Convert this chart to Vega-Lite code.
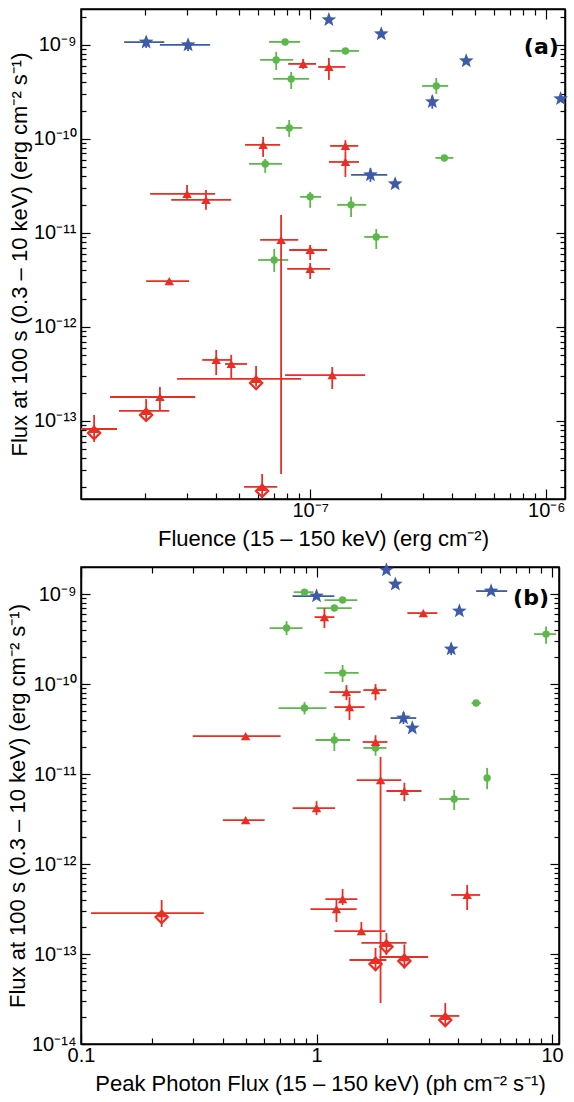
{
  "$schema": "https://vega.github.io/schema/vega-lite/v6.json",
  "background": "white",
  "padding": {"left": 5, "top": 5, "right": 5, "bottom": 0},
  "config": {
    "view": {"stroke": "black", "strokeWidth": 1.5},
    "axis": {
      "labelFont": "Liberation Sans", "titleFont": "Liberation Sans",
      "labelFontSize": 20, "titleFontSize": 22, "titleFontWeight": "normal",
      "labelColor": "black", "titleColor": "black", "domainColor": "black",
      "tickColor": "black", "tickWidth": 1.2, "domainWidth": 1.5, "grid": false,
      "labelFlush": false, "labelOverlap": false
    }
  },
  "spacing": 6,
  "datasets": {
    "a": [
      {"k": "star", "x": 2.02e-8, "xlo": 1.63e-8, "xhi": 2.41e-8, "y": 1.07e-9, "ylo": 9.3e-10, "yhi": 1.22e-9},
      {"k": "star", "x": 3.04e-8, "xlo": 2.31e-8, "xhi": 3.77e-8, "y": 1.0e-9, "ylo": 8.6e-10, "yhi": 1.13e-9},
      {"k": "star", "x": 1.2e-7, "xlo": 1.2e-7, "xhi": 1.2e-7, "y": 1.85e-9, "ylo": 1.85e-9, "yhi": 1.85e-9},
      {"k": "star", "x": 2.0e-7, "xlo": 2.0e-7, "xhi": 2.0e-7, "y": 1.31e-9, "ylo": 1.31e-9, "yhi": 1.31e-9},
      {"k": "star", "x": 4.58e-7, "xlo": 4.58e-7, "xhi": 4.58e-7, "y": 6.76e-10, "ylo": 6.76e-10, "yhi": 6.76e-10},
      {"k": "star", "x": 3.29e-7, "xlo": 3.29e-7, "xhi": 3.29e-7, "y": 2.48e-10, "ylo": 2.1e-10, "yhi": 2.9e-10},
      {"k": "star", "x": 1.15e-6, "xlo": 1.15e-6, "xhi": 1.15e-6, "y": 2.67e-10, "ylo": 2.67e-10, "yhi": 2.67e-10},
      {"k": "star", "x": 1.8e-7, "xlo": 1.49e-7, "xhi": 2.12e-7, "y": 4.14e-11, "ylo": 3.5e-11, "yhi": 4.9e-11},
      {"k": "star", "x": 2.29e-7, "xlo": 2.29e-7, "xhi": 2.29e-7, "y": 3.32e-11, "ylo": 3.32e-11, "yhi": 3.32e-11},
      {"k": "circ", "x": 7.83e-8, "xlo": 6.7e-8, "xhi": 9.07e-8, "y": 1.076e-9, "ylo": 1.076e-9, "yhi": 1.076e-9},
      {"k": "circ", "x": 7.18e-8, "xlo": 6.14e-8, "xhi": 8.47e-8, "y": 6.92e-10, "ylo": 5.42e-10, "yhi": 8.42e-10},
      {"k": "circ", "x": 8.31e-8, "xlo": 6.97e-8, "xhi": 9.9e-8, "y": 4.35e-10, "ylo": 3.4e-10, "yhi": 5.16e-10},
      {"k": "circ", "x": 8.15e-8, "xlo": 7.18e-8, "xhi": 9.25e-8, "y": 1.31e-10, "ylo": 1.05e-10, "yhi": 1.59e-10},
      {"k": "circ", "x": 6.45e-8, "xlo": 5.51e-8, "xhi": 7.61e-8, "y": 5.42e-11, "ylo": 4.35e-11, "yhi": 6.12e-11},
      {"k": "circ", "x": 7.04e-8, "xlo": 6.02e-8, "xhi": 8.07e-8, "y": 5.16e-12, "ylo": 3.85e-12, "yhi": 6.76e-12},
      {"k": "circ", "x": 1.41e-7, "xlo": 1.215e-7, "xhi": 1.61e-7, "y": 8.63e-10, "ylo": 8.63e-10, "yhi": 8.63e-10},
      {"k": "circ", "x": 3.42e-7, "xlo": 2.98e-7, "xhi": 3.84e-7, "y": 3.66e-10, "ylo": 3.01e-10, "yhi": 4.46e-10},
      {"k": "circ", "x": 3.7e-7, "xlo": 3.39e-7, "xhi": 4.04e-7, "y": 6.28e-11, "ylo": 6.28e-11, "yhi": 6.28e-11},
      {"k": "circ", "x": 1.0e-7, "xlo": 9.07e-8, "xhi": 1.113e-7, "y": 2.42e-11, "ylo": 1.85e-11, "yhi": 2.73e-11},
      {"k": "circ", "x": 1.49e-7, "xlo": 1.3e-7, "xhi": 1.727e-7, "y": 1.99e-11, "ylo": 1.48e-11, "yhi": 2.42e-11},
      {"k": "circ", "x": 1.905e-7, "xlo": 1.694e-7, "xhi": 2.14e-7, "y": 9.07e-12, "ylo": 6.76e-12, "yhi": 1.1e-11},
      {"k": "tri", "x": 6.32e-8, "xlo": 5.3e-8, "xhi": 7.46e-8, "y": 8.63e-11, "ylo": 6.44e-11, "yhi": 1.05e-10},
      {"k": "tri", "x": 3.01e-8, "xlo": 2.1e-8, "xhi": 3.96e-8, "y": 2.6e-11, "ylo": 2.25e-11, "yhi": 3.24e-11},
      {"k": "tri", "x": 3.62e-8, "xlo": 2.58e-8, "xhi": 4.63e-8, "y": 2.25e-11, "ylo": 1.76e-11, "yhi": 2.86e-11},
      {"k": "tri", "x": 7.53e-8, "xlo": 6.14e-8, "xhi": 8.9e-8, "y": 8.43e-12, "ylo": 2.73e-14, "yhi": 1.55e-11},
      {"k": "tri", "x": 9.34e-8, "xlo": 8.07e-8, "xhi": 1.06e-7, "y": 6.28e-10, "ylo": 5.56e-10, "yhi": 7.1e-10},
      {"k": "tri", "x": 1.2e-7, "xlo": 1.081e-7, "xhi": 1.41e-7, "y": 5.83e-10, "ylo": 4.24e-10, "yhi": 7.27e-10},
      {"k": "tri", "x": 1.41e-7, "xlo": 1.215e-7, "xhi": 1.597e-7, "y": 8.43e-11, "ylo": 7.3e-11, "yhi": 9.7e-11},
      {"k": "tri", "x": 1.41e-7, "xlo": 1.2e-7, "xhi": 1.61e-7, "y": 5.69e-11, "ylo": 3.94e-11, "yhi": 7.27e-11},
      {"k": "tri", "x": 1.0e-7, "xlo": 8.15e-8, "xhi": 1.18e-7, "y": 6.59e-12, "ylo": 5.16e-12, "yhi": 7.45e-12},
      {"k": "tri", "x": 1.0e-7, "xlo": 7.99e-8, "xhi": 1.215e-7, "y": 4.14e-12, "ylo": 3.24e-12, "yhi": 4.8e-12},
      {"k": "tri", "x": 2.53e-8, "xlo": 2.02e-8, "xhi": 3.07e-8, "y": 3.08e-12, "ylo": 3.08e-12, "yhi": 3.08e-12},
      {"k": "tri", "x": 4.0e-8, "xlo": 3.49e-8, "xhi": 4.63e-8, "y": 4.46e-13, "ylo": 3.08e-13, "yhi": 5.69e-13},
      {"k": "tri", "x": 4.63e-8, "xlo": 4.36e-8, "xhi": 5.41e-8, "y": 4.04e-13, "ylo": 2.8e-13, "yhi": 5.04e-13},
      {"k": "tri", "x": 2.31e-8, "xlo": 1.42e-8, "xhi": 3.26e-8, "y": 1.8e-13, "ylo": 1.31e-13, "yhi": 2.3e-13},
      {"k": "tri", "x": 1.24e-7, "xlo": 7.83e-8, "xhi": 1.71e-7, "y": 3.08e-13, "ylo": 2.19e-13, "yhi": 3.75e-13},
      {"k": "diam", "x": 1.216e-8, "xlo": 1.07e-8, "xhi": 1.52e-8, "y": 8.22e-14, "ylo": 5.98e-14, "yhi": 1.16e-13},
      {"k": "diam", "x": 2.02e-8, "xlo": 1.55e-8, "xhi": 2.53e-8, "y": 1.28e-13, "ylo": 1.03e-13, "yhi": 1.71e-13},
      {"k": "diam", "x": 5.9e-8, "xlo": 2.73e-8, "xhi": 9.16e-8, "y": 2.8e-13, "ylo": 2.33e-13, "yhi": 3.85e-13},
      {"k": "diam", "x": 6.26e-8, "xlo": 5.25e-8, "xhi": 7.25e-8, "y": 1.99e-14, "ylo": 1.5e-14, "yhi": 2.73e-14}
    ],
    "b": [
      {"k": "star", "x": 1.98, "xlo": 1.98, "xhi": 1.98, "y": 1.85e-9, "ylo": 1.85e-9, "yhi": 1.85e-9},
      {"k": "star", "x": 2.16, "xlo": 2.16, "xhi": 2.16, "y": 1.29e-9, "ylo": 1.29e-9, "yhi": 1.29e-9},
      {"k": "star", "x": 1.0, "xlo": 0.791, "xhi": 1.19, "y": 9.5e-10, "ylo": 9.5e-10, "yhi": 9.5e-10},
      {"k": "star", "x": 5.51, "xlo": 4.76, "xhi": 6.45, "y": 1.08e-9, "ylo": 1.08e-9, "yhi": 1.08e-9},
      {"k": "star", "x": 4.04, "xlo": 4.04, "xhi": 4.04, "y": 6.48e-10, "ylo": 6.48e-10, "yhi": 6.48e-10},
      {"k": "star", "x": 3.73, "xlo": 3.73, "xhi": 3.73, "y": 2.45e-10, "ylo": 2.1e-10, "yhi": 2.85e-10},
      {"k": "star", "x": 2.34, "xlo": 2.06, "xhi": 2.65, "y": 4.19e-11, "ylo": 3.6e-11, "yhi": 4.9e-11},
      {"k": "star", "x": 2.55, "xlo": 2.55, "xhi": 2.55, "y": 3.24e-11, "ylo": 3.24e-11, "yhi": 3.24e-11},
      {"k": "circ", "x": 0.889, "xlo": 0.8, "xhi": 0.97, "y": 1.05e-9, "ylo": 1.05e-9, "yhi": 1.05e-9},
      {"k": "circ", "x": 1.29, "xlo": 1.08, "xhi": 1.49, "y": 8.58e-10, "ylo": 8.58e-10, "yhi": 8.58e-10},
      {"k": "circ", "x": 1.19, "xlo": 1.0, "xhi": 1.41, "y": 6.99e-10, "ylo": 6.99e-10, "yhi": 6.99e-10},
      {"k": "circ", "x": 0.746, "xlo": 0.632, "xhi": 0.872, "y": 4.19e-10, "ylo": 3.5e-10, "yhi": 5.0e-10},
      {"k": "circ", "x": 1.29, "xlo": 1.08, "xhi": 1.51, "y": 1.33e-10, "ylo": 1.05e-10, "yhi": 1.63e-10},
      {"k": "circ", "x": 0.889, "xlo": 0.69, "xhi": 1.1, "y": 5.41e-11, "ylo": 4.6e-11, "yhi": 6.3e-11},
      {"k": "circ", "x": 1.19, "xlo": 0.99, "xhi": 1.39, "y": 2.39e-11, "ylo": 1.8e-11, "yhi": 2.86e-11},
      {"k": "circ", "x": 1.78, "xlo": 1.58, "xhi": 1.98, "y": 1.95e-11, "ylo": 1.6e-11, "yhi": 2.3e-11},
      {"k": "circ", "x": 4.76, "xlo": 4.55, "xhi": 4.98, "y": 6.15e-11, "ylo": 6.15e-11, "yhi": 6.15e-11},
      {"k": "circ", "x": 5.3, "xlo": 5.3, "xhi": 5.3, "y": 9.03e-12, "ylo": 6.8e-12, "yhi": 1.17e-11},
      {"k": "circ", "x": 3.84, "xlo": 3.32, "xhi": 4.45, "y": 5.28e-12, "ylo": 3.98e-12, "yhi": 6.64e-12},
      {"k": "circ", "x": 9.43, "xlo": 8.39, "xhi": 10.4, "y": 3.59e-10, "ylo": 2.8e-10, "yhi": 4.35e-10},
      {"k": "tri", "x": 1.08, "xlo": 0.981, "xhi": 1.19, "y": 5.55e-10, "ylo": 4.19e-10, "yhi": 6.99e-10},
      {"k": "tri", "x": 2.84, "xlo": 2.43, "xhi": 3.26, "y": 6.15e-10, "ylo": 6.15e-10, "yhi": 6.15e-10},
      {"k": "tri", "x": 1.34, "xlo": 1.135, "xhi": 1.54, "y": 8.15e-11, "ylo": 6.64e-11, "yhi": 9.74e-11},
      {"k": "tri", "x": 1.78, "xlo": 1.58, "xhi": 1.98, "y": 8.58e-11, "ylo": 6.6e-11, "yhi": 1.0e-10},
      {"k": "tri", "x": 1.38, "xlo": 1.19, "xhi": 1.6, "y": 5.55e-11, "ylo": 3.98e-11, "yhi": 7.17e-11},
      {"k": "tri", "x": 1.78, "xlo": 1.57, "xhi": 2.0, "y": 2.27e-11, "ylo": 1.8e-11, "yhi": 2.7e-11},
      {"k": "tri", "x": 1.87, "xlo": 1.48, "xhi": 2.29, "y": 8.58e-12, "ylo": 2.85e-14, "yhi": 1.55e-11},
      {"k": "tri", "x": 2.36, "xlo": 1.98, "xhi": 2.79, "y": 6.48e-12, "ylo": 5.0e-12, "yhi": 8.0e-12},
      {"k": "tri", "x": 1.0, "xlo": 0.791, "xhi": 1.2, "y": 4.19e-12, "ylo": 3.5e-12, "yhi": 5.0e-12},
      {"k": "tri", "x": 0.5, "xlo": 0.298, "xhi": 0.704, "y": 2.64e-11, "ylo": 2.64e-11, "yhi": 2.64e-11},
      {"k": "tri", "x": 0.5, "xlo": 0.4, "xhi": 0.602, "y": 3.08e-12, "ylo": 3.08e-12, "yhi": 3.08e-12},
      {"k": "tri", "x": 1.29, "xlo": 1.09, "xhi": 1.49, "y": 4.08e-13, "ylo": 3.5e-13, "yhi": 5.27e-13},
      {"k": "tri", "x": 1.215, "xlo": 0.943, "xhi": 1.48, "y": 3.16e-13, "ylo": 2.27e-13, "yhi": 3.98e-13},
      {"k": "tri", "x": 1.55, "xlo": 1.19, "xhi": 1.96, "y": 1.8e-13, "ylo": 1.63e-13, "yhi": 2.27e-13},
      {"k": "tri", "x": 4.36, "xlo": 3.73, "xhi": 4.95, "y": 4.53e-13, "ylo": 3.08e-13, "yhi": 5.85e-13},
      {"k": "diam", "x": 0.22, "xlo": 0.1103, "xhi": 0.332, "y": 2.85e-13, "ylo": 2.0e-13, "yhi": 3.98e-13},
      {"k": "diam", "x": 1.98, "xlo": 1.55, "xhi": 2.41, "y": 1.33e-13, "ylo": 9.75e-14, "yhi": 1.71e-13},
      {"k": "diam", "x": 1.78, "xlo": 1.38, "xhi": 1.98, "y": 8.58e-14, "ylo": 6.5e-14, "yhi": 1.17e-13},
      {"k": "diam", "x": 2.36, "xlo": 1.85, "xhi": 2.98, "y": 9.26e-14, "ylo": 6.9e-14, "yhi": 1.28e-13},
      {"k": "diam", "x": 3.52, "xlo": 3.04, "xhi": 4.04, "y": 2.05e-14, "ylo": 1.63e-14, "yhi": 2.85e-14}
    ]
  },
  "vconcat": [
    {
      "width": 484, "height": 490,
      "data": {"name": "a"},
      "layer": [
        {
          "mark": {"type": "rule", "strokeWidth": 1.8},
          "encoding": {
            "x": {"field": "xlo", "type": "quantitative", "scale": {"type": "log", "domain": [1.07e-8, 1.2e-6], "nice": false},
              "axis": {"orient": "bottom", "title": "Fluence (15 – 150 keV) (erg cm⁻²)",
                "values": [2e-8,3e-8,4e-8,5e-8,6e-8,7e-8,8e-8,9e-8,1e-7,2e-7,3e-7,4e-7,5e-7,6e-7,7e-7,8e-7,9e-7,1e-6],
                "labelExpr": "abs(log(datum.value)/LN10 - round(log(datum.value)/LN10)) < 1e-6 ? '10⁻' + replace(replace(replace(replace(replace(replace(replace(replace(replace(replace('' + (-round(log(datum.value)/LN10)), regexp('0','g'), '⁰'), regexp('1','g'), '¹'), regexp('2','g'), '²'), regexp('3','g'), '³'), regexp('4','g'), '⁴'), regexp('5','g'), '⁵'), regexp('6','g'), '⁶'), regexp('7','g'), '⁷'), regexp('8','g'), '⁸'), regexp('9','g'), '⁹') : ''",
                "tickSize": {"condition": {"test": "abs(log(datum.value)/LN10 - round(log(datum.value)/LN10)) < 1e-6", "value": -10}, "value": -6},
                "labelPadding": 11, "titlePadding": 4}},
            "x2": {"field": "xhi"},
            "y": {"field": "y", "type": "quantitative", "scale": {"type": "log", "domain": [1.48e-14, 2.41e-9], "nice": false},
              "axis": {"orient": "left", "title": "Flux at 100 s (0.3 – 10 keV) (erg cm⁻² s⁻¹)",
                "values": [2e-14,3e-14,4e-14,5e-14,6e-14,7e-14,8e-14,9e-14,1e-13,2e-13,3e-13,4e-13,5e-13,6e-13,7e-13,8e-13,9e-13,1e-12,2e-12,3e-12,4e-12,5e-12,6e-12,7e-12,8e-12,9e-12,1e-11,2e-11,3e-11,4e-11,5e-11,6e-11,7e-11,8e-11,9e-11,1e-10,2e-10,3e-10,4e-10,5e-10,6e-10,7e-10,8e-10,9e-10,1e-9,2e-9],
                "labelExpr": "abs(log(datum.value)/LN10 - round(log(datum.value)/LN10)) < 1e-6 ? '10⁻' + replace(replace(replace(replace(replace(replace(replace(replace(replace(replace('' + (-round(log(datum.value)/LN10)), regexp('0','g'), '⁰'), regexp('1','g'), '¹'), regexp('2','g'), '²'), regexp('3','g'), '³'), regexp('4','g'), '⁴'), regexp('5','g'), '⁵'), regexp('6','g'), '⁶'), regexp('7','g'), '⁷'), regexp('8','g'), '⁸'), regexp('9','g'), '⁹') : ''",
                "tickSize": {"condition": {"test": "abs(log(datum.value)/LN10 - round(log(datum.value)/LN10)) < 1e-6", "value": -9}, "value": -5},
                "labelPadding": 14, "titlePadding": 2}},
            "color": {"field": "k", "type": "nominal", "scale": {"domain": ["star", "circ", "tri", "diam"], "range": ["#3d5ba9", "#5cb84a", "#ec2d24", "#ec2d24"]}, "legend": null}
          }
        },
        {
          "mark": {"type": "rule", "strokeWidth": 1.8},
          "encoding": {
            "x": {"field": "x", "type": "quantitative", "scale": {"type": "log", "domain": [1.07e-8, 1.2e-6], "nice": false},
              "axis": {"orient": "top", "title": null, "labels": false,
                "values": [2e-8,3e-8,4e-8,5e-8,6e-8,7e-8,8e-8,9e-8,1e-7,2e-7,3e-7,4e-7,5e-7,6e-7,7e-7,8e-7,9e-7,1e-6],
                "tickSize": {"condition": {"test": "abs(log(datum.value)/LN10 - round(log(datum.value)/LN10)) < 1e-6", "value": -10}, "value": -6}}},
            "y": {"field": "ylo", "type": "quantitative", "scale": {"type": "log", "domain": [1.48e-14, 2.41e-9], "nice": false},
              "axis": {"orient": "right", "title": null, "labels": false,
                "values": [2e-14,3e-14,4e-14,5e-14,6e-14,7e-14,8e-14,9e-14,1e-13,2e-13,3e-13,4e-13,5e-13,6e-13,7e-13,8e-13,9e-13,1e-12,2e-12,3e-12,4e-12,5e-12,6e-12,7e-12,8e-12,9e-12,1e-11,2e-11,3e-11,4e-11,5e-11,6e-11,7e-11,8e-11,9e-11,1e-10,2e-10,3e-10,4e-10,5e-10,6e-10,7e-10,8e-10,9e-10,1e-9,2e-9],
                "tickSize": {"condition": {"test": "abs(log(datum.value)/LN10 - round(log(datum.value)/LN10)) < 1e-6", "value": -9}, "value": -5}}},
            "y2": {"field": "yhi"},
            "color": {"field": "k", "type": "nominal", "scale": {"domain": ["star", "circ", "tri", "diam"], "range": ["#3d5ba9", "#5cb84a", "#ec2d24", "#ec2d24"]}, "legend": null}
          }
        },
        {
          "transform": [{"filter": "datum.k == 'star'"}],
          "mark": {"type": "point", "shape": "M0,-1L0.247,-0.34L0.951,-0.309L0.399,0.13L0.588,0.809L0,0.42L-0.588,0.809L-0.399,0.13L-0.951,-0.309L-0.247,-0.34Z", "filled": true, "opacity": 1, "size": 240},
          "encoding": {
            "x": {"field": "x", "type": "quantitative", "scale": {"type": "log", "domain": [1.07e-8, 1.2e-6], "nice": false}, "axis": null},
            "y": {"field": "y", "type": "quantitative", "scale": {"type": "log", "domain": [1.48e-14, 2.41e-9], "nice": false}, "axis": null},
            "color": {"field": "k", "type": "nominal", "scale": {"domain": ["star", "circ", "tri", "diam"], "range": ["#3d5ba9", "#5cb84a", "#ec2d24", "#ec2d24"]}, "legend": null}
          }
        },
        {
          "transform": [{"filter": "datum.k == 'circ'"}],
          "mark": {"type": "circle", "opacity": 1, "size": 55},
          "encoding": {
            "x": {"field": "x", "type": "quantitative", "scale": {"type": "log", "domain": [1.07e-8, 1.2e-6], "nice": false}, "axis": null},
            "y": {"field": "y", "type": "quantitative", "scale": {"type": "log", "domain": [1.48e-14, 2.41e-9], "nice": false}, "axis": null},
            "color": {"field": "k", "type": "nominal", "scale": {"domain": ["star", "circ", "tri", "diam"], "range": ["#3d5ba9", "#5cb84a", "#ec2d24", "#ec2d24"]}, "legend": null}
          }
        },
        {
          "transform": [{"filter": "datum.k == 'diam'"}],
          "mark": {"type": "point", "shape": "diamond", "filled": false, "strokeWidth": 2.2, "opacity": 1, "size": 150, "yOffset": 4},
          "encoding": {
            "x": {"field": "x", "type": "quantitative", "scale": {"type": "log", "domain": [1.07e-8, 1.2e-6], "nice": false}, "axis": null},
            "y": {"field": "y", "type": "quantitative", "scale": {"type": "log", "domain": [1.48e-14, 2.41e-9], "nice": false}, "axis": null},
            "color": {"field": "k", "type": "nominal", "scale": {"domain": ["star", "circ", "tri", "diam"], "range": ["#3d5ba9", "#5cb84a", "#ec2d24", "#ec2d24"]}, "legend": null}
          }
        },
        {
          "transform": [{"filter": "datum.k == 'tri' || datum.k == 'diam'"}],
          "mark": {"type": "point", "shape": "triangle-up", "filled": true, "opacity": 1, "size": 90},
          "encoding": {
            "x": {"field": "x", "type": "quantitative", "scale": {"type": "log", "domain": [1.07e-8, 1.2e-6], "nice": false}, "axis": null},
            "y": {"field": "y", "type": "quantitative", "scale": {"type": "log", "domain": [1.48e-14, 2.41e-9], "nice": false}, "axis": null},
            "color": {"field": "k", "type": "nominal", "scale": {"domain": ["star", "circ", "tri", "diam"], "range": ["#3d5ba9", "#5cb84a", "#ec2d24", "#ec2d24"]}, "legend": null}
          }
        },
        {
          "data": {"values": [{"t": "(a)"}]},
          "mark": {"type": "text", "font": "DejaVu Sans", "fontWeight": "bold", "fontSize": 22, "align": "right", "baseline": "middle", "color": "black"},
          "encoding": {
            "x": {"datum": 1.13e-6, "type": "quantitative", "scale": {"type": "log", "domain": [1.07e-8, 1.2e-6], "nice": false}, "axis": null},
            "y": {"datum": 9.5e-10, "type": "quantitative", "scale": {"type": "log", "domain": [1.48e-14, 2.41e-9], "nice": false}, "axis": null},
            "text": {"field": "t"}
          }
        }
      ],
      "resolve": {"axis": {"x": "independent", "y": "independent"}}
    },
    {
      "width": 478, "height": 477,
      "data": {"name": "b"},
      "layer": [
        {
          "mark": {"type": "rule", "strokeWidth": 1.8},
          "encoding": {
            "x": {"field": "xlo", "type": "quantitative", "scale": {"type": "log", "domain": [0.1, 10.7], "nice": false},
              "axis": {"orient": "bottom", "title": "Peak Photon Flux (15 – 150 keV) (ph cm⁻² s⁻¹)",
                "values": [0.1,0.2,0.3,0.4,0.5,0.6,0.7,0.8,0.9,1,2,3,4,5,6,7,8,9,10],
                "labelExpr": "abs(log(datum.value)/LN10 - round(log(datum.value)/LN10)) < 1e-6 ? format(datum.value, '~g') : ''",
                "tickSize": {"condition": {"test": "abs(log(datum.value)/LN10 - round(log(datum.value)/LN10)) < 1e-6", "value": -10}, "value": -6},
                "labelPadding": 11, "titlePadding": 4}},
            "x2": {"field": "xhi"},
            "y": {"field": "y", "type": "quantitative", "scale": {"type": "log", "domain": [1e-14, 2.0e-9], "nice": false},
              "axis": {"orient": "left", "title": "Flux at 100 s (0.3 – 10 keV) (erg cm⁻² s⁻¹)",
                "values": [1e-14,2e-14,3e-14,4e-14,5e-14,6e-14,7e-14,8e-14,9e-14,1e-13,2e-13,3e-13,4e-13,5e-13,6e-13,7e-13,8e-13,9e-13,1e-12,2e-12,3e-12,4e-12,5e-12,6e-12,7e-12,8e-12,9e-12,1e-11,2e-11,3e-11,4e-11,5e-11,6e-11,7e-11,8e-11,9e-11,1e-10,2e-10,3e-10,4e-10,5e-10,6e-10,7e-10,8e-10,9e-10,1e-9,2e-9],
                "labelExpr": "abs(log(datum.value)/LN10 - round(log(datum.value)/LN10)) < 1e-6 ? '10⁻' + replace(replace(replace(replace(replace(replace(replace(replace(replace(replace('' + (-round(log(datum.value)/LN10)), regexp('0','g'), '⁰'), regexp('1','g'), '¹'), regexp('2','g'), '²'), regexp('3','g'), '³'), regexp('4','g'), '⁴'), regexp('5','g'), '⁵'), regexp('6','g'), '⁶'), regexp('7','g'), '⁷'), regexp('8','g'), '⁸'), regexp('9','g'), '⁹') : ''",
                "tickSize": {"condition": {"test": "abs(log(datum.value)/LN10 - round(log(datum.value)/LN10)) < 1e-6", "value": -9}, "value": -5},
                "labelPadding": 14, "titlePadding": 2}},
            "color": {"field": "k", "type": "nominal", "scale": {"domain": ["star", "circ", "tri", "diam"], "range": ["#3d5ba9", "#5cb84a", "#ec2d24", "#ec2d24"]}, "legend": null}
          }
        },
        {
          "mark": {"type": "rule", "strokeWidth": 1.8},
          "encoding": {
            "x": {"field": "x", "type": "quantitative", "scale": {"type": "log", "domain": [0.1, 10.7], "nice": false},
              "axis": {"orient": "top", "title": null, "labels": false,
                "values": [0.1,0.2,0.3,0.4,0.5,0.6,0.7,0.8,0.9,1,2,3,4,5,6,7,8,9,10],
                "tickSize": {"condition": {"test": "abs(log(datum.value)/LN10 - round(log(datum.value)/LN10)) < 1e-6", "value": -10}, "value": -6}}},
            "y": {"field": "ylo", "type": "quantitative", "scale": {"type": "log", "domain": [1e-14, 2.0e-9], "nice": false},
              "axis": {"orient": "right", "title": null, "labels": false,
                "values": [1e-14,2e-14,3e-14,4e-14,5e-14,6e-14,7e-14,8e-14,9e-14,1e-13,2e-13,3e-13,4e-13,5e-13,6e-13,7e-13,8e-13,9e-13,1e-12,2e-12,3e-12,4e-12,5e-12,6e-12,7e-12,8e-12,9e-12,1e-11,2e-11,3e-11,4e-11,5e-11,6e-11,7e-11,8e-11,9e-11,1e-10,2e-10,3e-10,4e-10,5e-10,6e-10,7e-10,8e-10,9e-10,1e-9,2e-9],
                "tickSize": {"condition": {"test": "abs(log(datum.value)/LN10 - round(log(datum.value)/LN10)) < 1e-6", "value": -9}, "value": -5}}},
            "y2": {"field": "yhi"},
            "color": {"field": "k", "type": "nominal", "scale": {"domain": ["star", "circ", "tri", "diam"], "range": ["#3d5ba9", "#5cb84a", "#ec2d24", "#ec2d24"]}, "legend": null}
          }
        },
        {
          "transform": [{"filter": "datum.k == 'star'"}],
          "mark": {"type": "point", "shape": "M0,-1L0.247,-0.34L0.951,-0.309L0.399,0.13L0.588,0.809L0,0.42L-0.588,0.809L-0.399,0.13L-0.951,-0.309L-0.247,-0.34Z", "filled": true, "opacity": 1, "size": 240},
          "encoding": {
            "x": {"field": "x", "type": "quantitative", "scale": {"type": "log", "domain": [0.1, 10.7], "nice": false}, "axis": null},
            "y": {"field": "y", "type": "quantitative", "scale": {"type": "log", "domain": [1e-14, 2.0e-9], "nice": false}, "axis": null},
            "color": {"field": "k", "type": "nominal", "scale": {"domain": ["star", "circ", "tri", "diam"], "range": ["#3d5ba9", "#5cb84a", "#ec2d24", "#ec2d24"]}, "legend": null}
          }
        },
        {
          "transform": [{"filter": "datum.k == 'circ'"}],
          "mark": {"type": "circle", "opacity": 1, "size": 55},
          "encoding": {
            "x": {"field": "x", "type": "quantitative", "scale": {"type": "log", "domain": [0.1, 10.7], "nice": false}, "axis": null},
            "y": {"field": "y", "type": "quantitative", "scale": {"type": "log", "domain": [1e-14, 2.0e-9], "nice": false}, "axis": null},
            "color": {"field": "k", "type": "nominal", "scale": {"domain": ["star", "circ", "tri", "diam"], "range": ["#3d5ba9", "#5cb84a", "#ec2d24", "#ec2d24"]}, "legend": null}
          }
        },
        {
          "transform": [{"filter": "datum.k == 'diam'"}],
          "mark": {"type": "point", "shape": "diamond", "filled": false, "strokeWidth": 2.2, "opacity": 1, "size": 150, "yOffset": 4},
          "encoding": {
            "x": {"field": "x", "type": "quantitative", "scale": {"type": "log", "domain": [0.1, 10.7], "nice": false}, "axis": null},
            "y": {"field": "y", "type": "quantitative", "scale": {"type": "log", "domain": [1e-14, 2.0e-9], "nice": false}, "axis": null},
            "color": {"field": "k", "type": "nominal", "scale": {"domain": ["star", "circ", "tri", "diam"], "range": ["#3d5ba9", "#5cb84a", "#ec2d24", "#ec2d24"]}, "legend": null}
          }
        },
        {
          "transform": [{"filter": "datum.k == 'tri' || datum.k == 'diam'"}],
          "mark": {"type": "point", "shape": "triangle-up", "filled": true, "opacity": 1, "size": 90},
          "encoding": {
            "x": {"field": "x", "type": "quantitative", "scale": {"type": "log", "domain": [0.1, 10.7], "nice": false}, "axis": null},
            "y": {"field": "y", "type": "quantitative", "scale": {"type": "log", "domain": [1e-14, 2.0e-9], "nice": false}, "axis": null},
            "color": {"field": "k", "type": "nominal", "scale": {"domain": ["star", "circ", "tri", "diam"], "range": ["#3d5ba9", "#5cb84a", "#ec2d24", "#ec2d24"]}, "legend": null}
          }
        },
        {
          "data": {"values": [{"t": "(b)"}]},
          "mark": {"type": "text", "font": "DejaVu Sans", "fontWeight": "bold", "fontSize": 22, "align": "right", "baseline": "middle", "color": "black"},
          "encoding": {
            "x": {"datum": 9.7, "type": "quantitative", "scale": {"type": "log", "domain": [0.1, 10.7], "nice": false}, "axis": null},
            "y": {"datum": 9.0e-10, "type": "quantitative", "scale": {"type": "log", "domain": [1e-14, 2.0e-9], "nice": false}, "axis": null},
            "text": {"field": "t"}
          }
        }
      ],
      "resolve": {"axis": {"x": "independent", "y": "independent"}}
    }
  ]
}
